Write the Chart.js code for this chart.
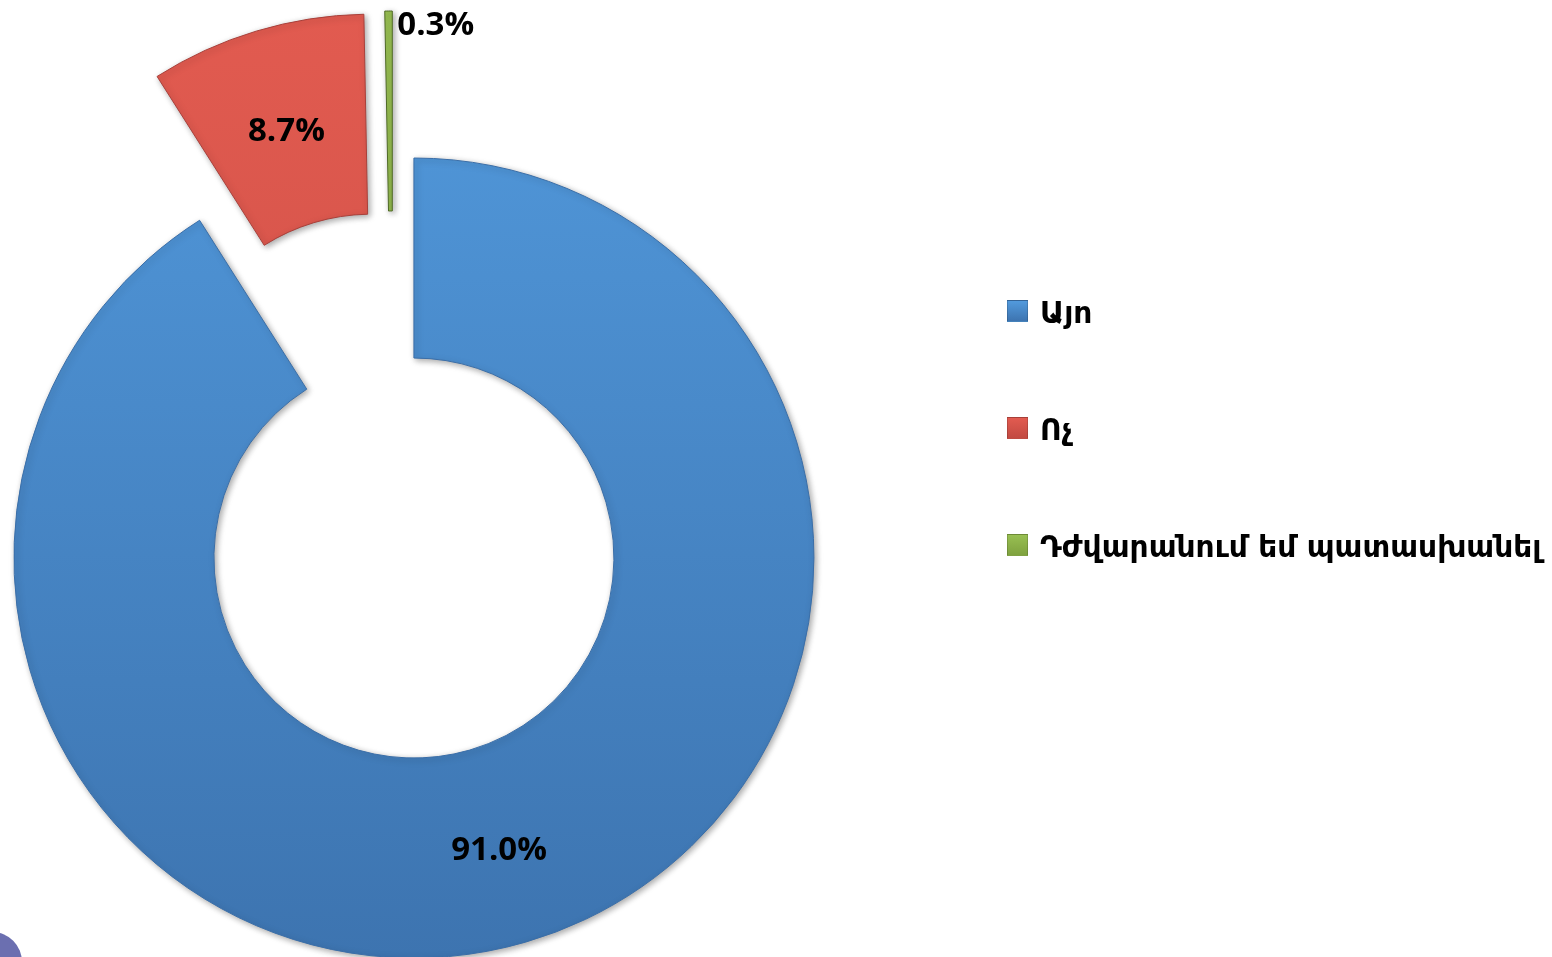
<!DOCTYPE html>
<html>
<head>
<meta charset="utf-8">
<script src="https://cdn.jsdelivr.net/npm/chart.js@4.4.1/dist/chart.umd.min.js"></script>
<style>
  html, body { margin: 0; padding: 0; background: #fff; overflow: hidden; }
  #wrap { position: relative; width: 1552px; height: 957px; }
  #legend { position: absolute; left: 1007px; top: 300px; font-family: "DejaVu Sans", sans-serif; }
  .item { position: absolute; left: 0; white-space: nowrap; height: 24px; }
  .box { position: absolute; left: 0; top: 0; width: 21px; height: 22px; border: 1px solid rgba(0,0,0,0.15); box-sizing: border-box; }
  .txt { position: absolute; left: 33px; top: -5px; font-size: 29.7px; font-weight: bold; color: #000; }
  #deco { position: absolute; left: -38px; top: 932px; width: 60px; height: 60px; border-radius: 50%; background: #6b6fb0; }
</style>
</head>
<body>
<div id="wrap">
  <canvas id="pie" width="1552" height="957"></canvas>
  <div id="legend"></div>
  <div id="deco"></div>
</div>
<script>
// ----- Data -----
const labels = ["Այո", "Ոչ", "Դժվարանում եմ պատասխանել"];
const values = [91.0, 8.7, 0.3];
const topColors = ["#529add", "#e25b50", "#98bf52"];
const bottomColors = ["#3d74b0", "#c24a42", "#7fa23f"];
const edgeColors = ["#3a6ea8", "#a8403a", "#4f6a26"];

const explode = 75;   // px each slice is pulled out

// ----- Legend (HTML) -----
const legendEl = document.getElementById("legend");
labels.forEach((lab, i) => {
    const item = document.createElement("div");
    item.className = "item";
    item.style.top = (i * 117) + "px";
    item.innerHTML = '<div class="box" style="background:linear-gradient(' + topColors[i] + ',' + bottomColors[i] + ')"></div>' +
                     '<div class="txt">' + lab + '</div>';
    legendEl.appendChild(item);
});

// ----- Plugins -----
const explodePlugin = {
    id: 'explode',
    afterDatasetUpdate(chart, args) {
        args.meta.data.forEach(arc => {
            const mid = (arc.startAngle + arc.endAngle) / 2;
            arc.x += Math.cos(mid) * explode;
            arc.y += Math.sin(mid) * explode;
        });
    }
};

const shadowPlugin = {
    id: 'shadow',
    beforeDatasetsDraw(chart) {
        const ctx = chart.ctx;
        ctx.save();
        ctx.shadowColor = 'rgba(0,0,0,0.35)';
        ctx.shadowBlur = 6;
        ctx.shadowOffsetX = 2;
        ctx.shadowOffsetY = 2;
    },
    afterDatasetsDraw(chart) {
        chart.ctx.restore();
    }
};

const labelPlugin = {
    id: 'pctLabels',
    afterDraw(chart) {
        const ctx = chart.ctx;
        const arcs = chart.getDatasetMeta(0).data;
        ctx.save();
        ctx.font = 'bold 33px "Open Sans", sans-serif';
        ctx.fillStyle = '#000';
        ctx.textBaseline = 'middle';
        arcs.forEach((arc, i) => {
            const txt = values[i].toFixed(1) + '%';
            const mid = (arc.startAngle + arc.endAngle) / 2;
            if (values[i] < 1) {
                // tiny slice: label outside, right of the outer tip
                const x = arc.x + Math.cos(arc.endAngle) * arc.outerRadius;
                const y = arc.y + Math.sin(arc.endAngle) * arc.outerRadius;
                ctx.textAlign = 'left';
                ctx.fillText(txt, x + 5, y + 15);
            } else {
                const r = (arc.innerRadius + arc.outerRadius) / 2 + (i === 1 ? -5 : 5);
                ctx.textAlign = 'center';
                ctx.fillText(txt, arc.x + Math.cos(mid) * r, arc.y + Math.sin(mid) * r);
            }
        });
        ctx.restore();
    }
};

function fillFor(i) {
    return function(context) {
        const chart = context.chart;
        const g = chart.ctx.createLinearGradient(0, 0, 0, chart.height);
        g.addColorStop(0, topColors[i]);
        g.addColorStop(1, bottomColors[i]);
        return g;
    };
}

// ----- Chart -----
const ctx = document.getElementById('pie').getContext('2d');
new Chart(ctx, {
    type: 'doughnut',
    data: {
        labels,
        datasets: [{
            data: values,
            backgroundColor: ctx2 => fillFor(ctx2.dataIndex)(ctx2),
            borderColor: edgeColors,
            borderWidth: 1,
            clip: false
        }]
    },
    options: {
        responsive: false,
        animation: false,
        radius: 400,
        cutout: '50%',
        layout: { padding: { left: 0, right: 766, top: 15, bottom: 0 } },
        plugins: {
            legend: { display: false },
            tooltip: { enabled: false }
        }
    },
    plugins: [explodePlugin, shadowPlugin, labelPlugin]
});
</script>
</body>
</html>
